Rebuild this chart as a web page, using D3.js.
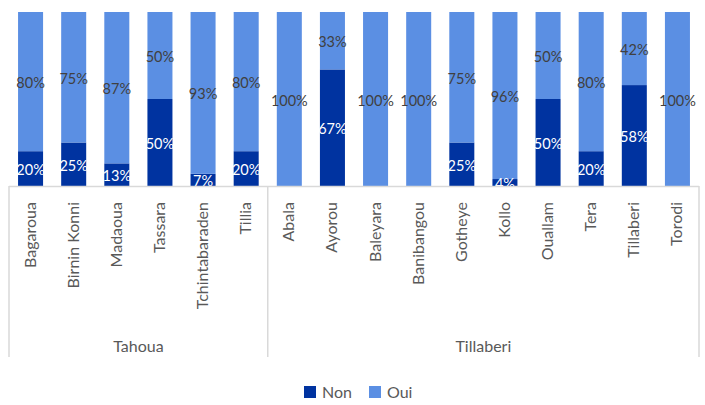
<!DOCTYPE html>
<html>
<head>
<meta charset="utf-8">
<script src="https://cdn.jsdelivr.net/npm/d3@7"></script>
<style>
  body { margin: 0; background: #fff; }
  text { font-family: "Lato", "Open Sans", sans-serif; }
</style>
</head>
<body>
<div id="chart"></div>
<script>
const width = 705;
const height = 405;

const regions = ["Tahoua", "Tillaberi"];
const communes = ["Bagaroua", "Birnin Konni", "Madaoua", "Tassara", "Tchintabaraden", "Tillia",
  "Abala", "Ayorou", "Baleyara", "Banibangou", "Gotheye", "Kollo", "Ouallam", "Tera", "Tillaberi", "Torodi"];
const communeRegion = ["Tahoua", "Tahoua", "Tahoua", "Tahoua", "Tahoua", "Tahoua",
  "Tillaberi", "Tillaberi", "Tillaberi", "Tillaberi", "Tillaberi", "Tillaberi", "Tillaberi", "Tillaberi", "Tillaberi", "Tillaberi"];
const nonValues = [20, 25, 13, 50, 7, 20, 0, 67, 0, 0, 25, 4, 50, 20, 58, 0];
const ouiValues = [80, 75, 87, 50, 93, 80, 100, 33, 100, 100, 75, 96, 50, 80, 42, 100];
const seriesNames = ["Non", "Oui"];
const seriesColors = ["#0033a0", "#5b8fe3"];

const plot = { left: 9, right: 699, top: 12, bottom: 186 };

const svg = d3.select("#chart")
  .append("svg")
  .attr("width", width)
  .attr("height", height);

const x = d3.scaleBand()
  .domain(d3.range(communes.length))
  .range([plot.left, plot.right])
  .paddingInner(0.42)
  .paddingOuter(0.21);

const y = d3.scaleLinear()
  .domain([0, 100])
  .range([plot.bottom, plot.top]);

const rows = communes.map((c, i) => ({ i, name: c, Non: nonValues[i], Oui: ouiValues[i] }));
const stacked = d3.stack().keys(seriesNames)(rows);

svg.append("clipPath")
  .attr("id", "plot-clip")
  .append("rect")
  .attr("x", plot.left)
  .attr("y", plot.top)
  .attr("width", plot.right - plot.left)
  .attr("height", plot.bottom - plot.top);

const layers = svg.selectAll("g.layer")
  .data(stacked)
  .enter()
  .append("g")
  .attr("class", "layer")
  .attr("fill", (d, k) => seriesColors[k]);

layers.selectAll("rect")
  .data(d => d)
  .enter()
  .append("rect")
  .attr("x", d => x(d.data.i))
  .attr("width", x.bandwidth())
  .attr("y", d => y(d[1]))
  .attr("height", d => y(d[0]) - y(d[1]));

// data labels
const labels = svg.append("g").attr("clip-path", "url(#plot-clip)");
stacked.forEach((layer, k) => {
  labels.selectAll(null)
    .data(layer.filter(d => d[1] - d[0] > 0))
    .enter()
    .append("text")
    .attr("x", d => x(d.data.i) + x.bandwidth() / 2)
    .attr("y", d => (y(d[0]) + y(d[1])) / 2 + 1)
    .attr("text-anchor", "middle")
    .attr("dominant-baseline", "central")
    .attr("font-size", 14.5)
    .attr("fill", k === 0 ? "#ffffff" : "#404040")
    .text(d => (d[1] - d[0]) + "%");
});

// axis lines
const axisColor = "#d9d9d9";
svg.append("line")
  .attr("x1", plot.left).attr("x2", plot.right)
  .attr("y1", plot.bottom + 0.5).attr("y2", plot.bottom + 0.5)
  .attr("stroke", axisColor).attr("stroke-width", 1.5);

const groupBounds = regions.map(r => {
  const idx = d3.range(communes.length).filter(i => communeRegion[i] === r);
  const x0 = x(idx[0]) - x.step() * x.paddingInner() / 2;
  const x1 = x(idx[idx.length - 1]) + x.bandwidth() + x.step() * x.paddingInner() / 2;
  return { r, x0: Math.max(x0, plot.left), x1: Math.min(x1, plot.right) };
});

const seps = [plot.left, ...groupBounds.slice(0, -1).map(g => g.x1), plot.right];
svg.selectAll("line.sep")
  .data(seps)
  .enter()
  .append("line")
  .attr("class", "sep")
  .attr("x1", d => d).attr("x2", d => d)
  .attr("y1", plot.bottom).attr("y2", 357)
  .attr("stroke", axisColor).attr("stroke-width", 1.5);

// category labels
svg.selectAll("text.cat")
  .data(communes)
  .enter()
  .append("text")
  .attr("class", "cat")
  .attr("transform", (d, i) => `translate(${x(i) + x.bandwidth() / 2 + 5},202) rotate(-90)`)
  .attr("text-anchor", "end")
  .attr("font-size", 16)
  .attr("fill", "#595959")
  .text(d => d);

// region labels
svg.selectAll("text.region")
  .data(groupBounds)
  .enter()
  .append("text")
  .attr("class", "region")
  .attr("x", d => (d.x0 + d.x1) / 2)
  .attr("y", 352)
  .attr("text-anchor", "middle")
  .attr("font-size", 16)
  .attr("fill", "#595959")
  .text(d => d.r);

// legend
const legendItems = [{ name: "Non", x: 304 }, { name: "Oui", x: 369 }];
const legend = svg.selectAll("g.legend")
  .data(legendItems)
  .enter()
  .append("g")
  .attr("class", "legend")
  .attr("transform", d => `translate(${d.x},386)`);
legend.append("rect")
  .attr("width", 12).attr("height", 12)
  .attr("fill", (d, k) => seriesColors[k]);
legend.append("text")
  .attr("x", 18).attr("y", 12)
  .attr("font-size", 16)
  .attr("fill", "#595959")
  .text(d => d.name);
</script>
</body>
</html>
